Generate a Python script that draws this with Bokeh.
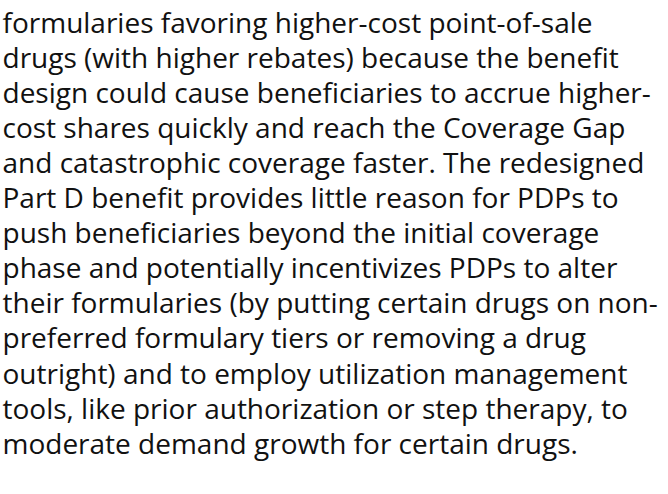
from bokeh.plotting import figure
from bokeh.models import Range1d, ColumnDataSource
from bokeh.core.properties import value
from bokeh.embed import file_html
from bokeh.resources import INLINE

lines = [
    "formularies favoring higher-cost point-of-sale",
    "drugs (with higher rebates) because the benefit",
    "design could cause beneficiaries to accrue higher-",
    "cost shares quickly and reach the Coverage Gap",
    "and catastrophic coverage faster. The redesigned",
    "Part D benefit provides little reason for PDPs to",
    "push beneficiaries beyond the initial coverage",
    "phase and potentially incentivizes PDPs to alter",
    "their formularies (by putting certain drugs on non-",
    "preferred formulary tiers or removing a drug",
    "outright) and to employ utilization management",
    "tools, like prior authorization or step therapy, to",
    "moderate demand growth for certain drugs.",
]
line_no = list(range(len(lines)))

W, H = 658, 478
top_px = 21.0
spacing = 35.1
span = H / spacing
y_top = -top_px / spacing

p = figure(width=W, height=H, output_backend="svg", toolbar_location=None,
           x_range=Range1d(0, W), y_range=Range1d(y_top + span, y_top),
           min_border=0)
p.axis.visible = False
p.grid.visible = False
p.outline_line_color = None
p.background_fill_color = "white"
p.border_fill_color = "white"

src = ColumnDataSource(dict(x=[2] * len(lines), y=line_no, t=lines))
p.text(x="x", y="y", text="t", source=src, text_font=value("Open Sans"),
       text_font_size="28px", text_color="#111111",
       text_baseline="alphabetic", text_align="left")

open("out.html", "w").write(file_html(p, INLINE))
